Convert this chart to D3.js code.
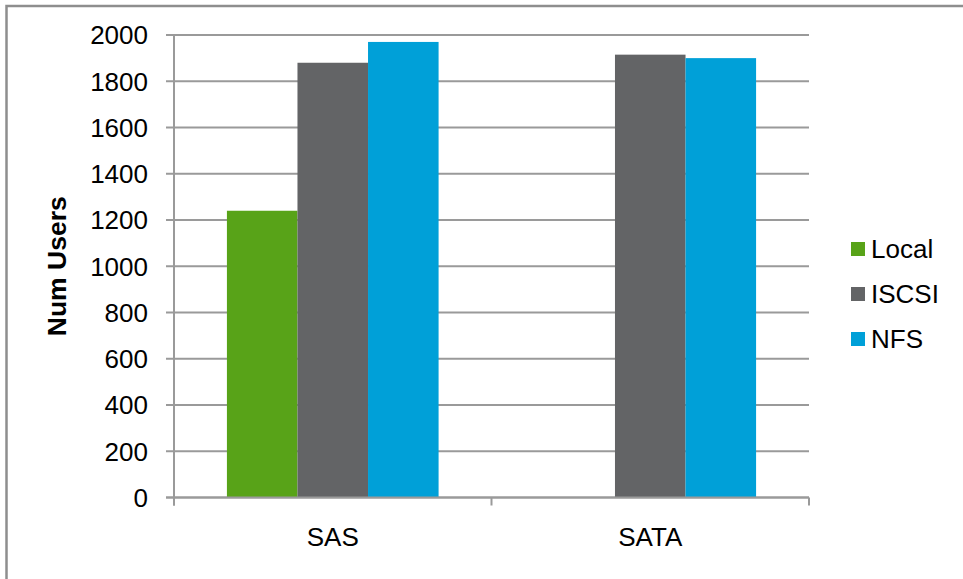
<!DOCTYPE html>
<html>
<head>
<meta charset="utf-8">
<script src="https://cdn.jsdelivr.net/npm/d3@7"></script>
<style>
  body { margin: 0; background: #fff; }
  text { font-family: "Liberation Sans", Arial, sans-serif; }
</style>
</head>
<body>
<div id="chart"></div>
<script>
// data
const categories = ['SAS', 'SATA'];
const seriesNames = ['Local', 'ISCSI', 'NFS'];
const localVals = [1240, 0];
const iscsiVals = [1880, 1915];
const nfsVals = [1970, 1900];
const yTicks = [0, 200, 400, 600, 800, 1000, 1200, 1400, 1600, 1800, 2000];
const colors = ['#58a318', '#636466', '#00a0d8'];

const seriesVals = [localVals, iscsiVals, nfsVals];

const width = 963, height = 579;
const margin = { left: 174, top: 35, right: 809, bottom: 497.5 };

const svg = d3.select('#chart').append('svg')
  .attr('width', width)
  .attr('height', height);

// outer chart border (only top/left visible in the frame)
svg.append('rect')
  .attr('x', 6.5).attr('y', 6)
  .attr('width', 1000).attr('height', 1000)
  .attr('fill', 'none')
  .attr('stroke', '#8e8e8e')
  .attr('stroke-width', 2.5);

const x0 = d3.scaleBand()
  .domain(categories)
  .range([margin.left, margin.right])
  .padding(0);

const x1 = d3.scaleBand()
  .domain(seriesNames)
  .range([0, x0.bandwidth()])
  .paddingInner(0)
  .paddingOuter(0.75);

const y = d3.scaleLinear()
  .domain([0, 2000])
  .range([margin.bottom, margin.top]);

// gridlines
svg.append('g')
  .selectAll('line')
  .data(yTicks)
  .enter().append('line')
  .attr('x1', margin.left - 8)
  .attr('x2', margin.right)
  .attr('y1', d => y(d))
  .attr('y2', d => y(d))
  .attr('stroke', '#9a9a9a')
  .attr('stroke-width', 2);

// y tick labels
svg.append('g')
  .selectAll('text')
  .data(yTicks)
  .enter().append('text')
  .attr('x', 148)
  .attr('y', d => y(d))
  .attr('dy', '0.36em')
  .attr('text-anchor', 'end')
  .attr('font-size', '26px')
  .attr('fill', '#000')
  .text(d => d);

// bars
const groups = svg.append('g')
  .selectAll('g')
  .data(categories)
  .enter().append('g')
  .attr('transform', d => 'translate(' + x0(d) + ',0)');

groups.selectAll('rect')
  .data((c, ci) => seriesNames.map((s, si) => ({ s: s, i: si, v: seriesVals[si][ci] })))
  .enter().append('rect')
  .filter(d => d.v > 0)
  .attr('x', d => x1(d.s))
  .attr('width', x1.bandwidth())
  .attr('y', d => y(d.v))
  .attr('height', d => y(0) - y(d.v))
  .attr('fill', d => colors[d.i]);

// axes lines
svg.append('line')
  .attr('x1', margin.left).attr('x2', margin.left)
  .attr('y1', margin.top).attr('y2', margin.bottom + 8)
  .attr('stroke', '#9a9a9a').attr('stroke-width', 2);

svg.append('line')
  .attr('x1', margin.left - 8).attr('x2', margin.right)
  .attr('y1', margin.bottom).attr('y2', margin.bottom)
  .attr('stroke', '#9a9a9a').attr('stroke-width', 2);

// x tick marks at band edges
const edges = categories.map(c => x0(c)).concat([margin.right]);
svg.append('g')
  .selectAll('line')
  .data(edges)
  .enter().append('line')
  .attr('x1', d => d).attr('x2', d => d)
  .attr('y1', margin.bottom).attr('y2', margin.bottom + 8)
  .attr('stroke', '#9a9a9a').attr('stroke-width', 2);

// x labels
svg.append('g')
  .selectAll('text')
  .data(categories)
  .enter().append('text')
  .attr('x', d => x0(d) + x0.bandwidth() / 2)
  .attr('y', 546)
  .attr('text-anchor', 'middle')
  .attr('font-size', '26px')
  .attr('fill', '#000')
  .text(d => d);

// y axis title
svg.append('text')
  .attr('transform', 'translate(66,' + ((margin.top + margin.bottom) / 2) + ') rotate(-90)')
  .attr('text-anchor', 'middle')
  .attr('font-size', '26.5px')
  .attr('font-weight', 'bold')
  .attr('fill', '#000')
  .text('Num Users');

// legend
const legend = svg.append('g')
  .selectAll('g')
  .data(seriesNames)
  .enter().append('g')
  .attr('transform', (d, i) => 'translate(851,' + (242 + i * 45) + ')');

legend.append('rect')
  .attr('width', 14).attr('height', 14)
  .attr('fill', (d, i) => colors[i]);

legend.append('text')
  .attr('x', 20)
  .attr('y', 7)
  .attr('dy', '0.36em')
  .attr('font-size', '26px')
  .attr('fill', '#000')
  .text(d => d);
</script>
</body>
</html>
